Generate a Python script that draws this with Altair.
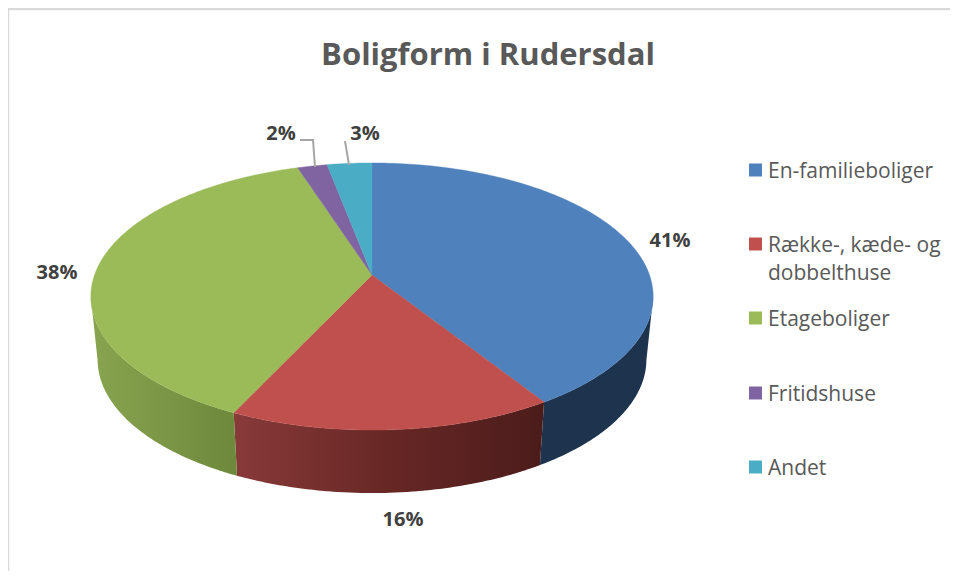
import math
import altair as alt
import pandas as pd

# ---- chart values ----
TITLE = "Boligform i Rudersdal"
CATEGORIES = ["En-familieboliger", "Række-, kæde- og dobbelthuse", "Etageboliger", "Fritidshuse", "Andet"]
SHARES = [41, 16, 38, 2, 3]
COLORS = ["#4F81BD", "#C0504D", "#9BBB59", "#8064A2", "#4BACC6"]
LEGEND_LINES = [["En-familieboliger"], ["Række-, kæde- og", "dobbelthuse"], ["Etageboliger"], ["Fritidshuse"], ["Andet"]]

# ---- layout (in reference pixels) ----
CX, APEX_Y = 372.0, 275.0
RIM_A, RIM_B, RIM_C = 277.5, 85.8, -0.161   # perspective of the tilted disc
DEPTH = 63.0
WALL_SHRINK = 0.976
LABEL_XY = [(670, 241), (403, 520), (57, 273), (281, 134), (365, 134)]
LEGEND_Y = [170, 244, 318, 393, 467]
LEGEND_TEXT_DY = 1.5
LEGEND_SWATCH_X = 755.5
LEGEND_TEXT_X = 768
LINE_GAP = 28
LEADERS = [[(300, 140), (313, 140), (315, 167)], [(345, 141), (349, 165)]]
X_DOM = [8, 950]
Y_DOM = [571, 8]
W, H = 942, 563
FONT = "Open Sans"


def rim(deg, a=RIM_A, dy=0.0):
    t = math.radians(deg)
    u, v = math.sin(t), -math.cos(t)
    d = 1 + RIM_C * v
    return CX + a * u / d, (RIM_B * v + APEX_Y) / d + dy


def to_intervals(poly):
    """Turn an x-monotone outline into x / y / y2 rows for an area mark."""
    rows = []
    xs = sorted({round(p[0], 2) for p in poly})
    n = len(poly)
    for x in xs:
        ys = []
        for i in range(n):
            (x0, y0), (x1, y1) = poly[i], poly[(i + 1) % n]
            lo, hi = min(x0, x1) - 0.006, max(x0, x1) + 0.006
            if lo <= x <= hi:
                if abs(x1 - x0) < 1e-6:
                    ys += [y0, y1]
                else:
                    f = min(1, max(0, (x - x0) / (x1 - x0)))
                    ys.append(y0 + f * (y1 - y0))
        if ys:
            rows.append({"x": x, "y": min(ys), "y2": max(ys)})
    return rows


def degs(a, b, step=1.0):
    n = max(2, int(abs(b - a) / step) + 1)
    return [a + (b - a) * i / (n - 1) for i in range(n)]


total = sum(SHARES)
edges = [0.0]
for s in SHARES:
    edges.append(edges[-1] + 360.0 * s / total)

# top faces
top_rows = []
for name, a, b in zip(CATEGORIES, edges[:-1], edges[1:]):
    poly = [(CX, APEX_Y)] + [rim(d) for d in degs(a, b)]
    for r in to_intervals(poly):
        r["slice"] = name
        top_rows.append(r)
top_df = pd.DataFrame(top_rows)

# silhouette tangents of the disc
tan_right = max(degs(0, 180, 0.5), key=lambda d: rim(d)[0])
tan_left = min(degs(180, 360, 0.5), key=lambda d: rim(d)[0])


def wall(a, b):
    top = [rim(d) for d in degs(a, b)]
    bottom = [rim(d, RIM_A * WALL_SHRINK, DEPTH) for d in degs(a, b)]
    return pd.DataFrame(to_intervals(top + bottom[::-1]))


X = alt.X("x:Q", scale=alt.Scale(domain=X_DOM), axis=None)
Y = alt.Y("y:Q", scale=alt.Scale(domain=Y_DOM), axis=None)
Y2 = alt.Y2("y2:Q")


def grad(*stops):
    return alt.Gradient(
        gradient="linear", x1=0, x2=1, y1=0, y2=0,
        stops=[alt.GradientStop(color=c, offset=o) for o, c in stops],
    )


walls = [
    alt.Chart(wall(tan_right, edges[1])).mark_area(orient="vertical", color="#1E344E")
    .encode(x=X, y=Y, y2=Y2),
    alt.Chart(wall(edges[1], edges[2])).mark_area(
        orient="vertical", color=grad((0, "#883A39"), (0.5, "#672725"), (1, "#4B1C1B")))
    .encode(x=X, y=Y, y2=Y2),
    alt.Chart(wall(edges[2], tan_left)).mark_area(
        orient="vertical", color=grad((0, "#88A44F"), (1, "#6E883C")))
    .encode(x=X, y=Y, y2=Y2),
]

color_scale = alt.Scale(domain=CATEGORIES, range=COLORS)
tops = alt.Chart(top_df).mark_area(orient="vertical", strokeWidth=0.4).encode(
    x=X, y=Y, y2=Y2,
    color=alt.Color("slice:N", scale=color_scale, legend=None),
    stroke=alt.Color("slice:N", scale=color_scale, legend=None),
)

# leader lines
lead_df = pd.DataFrame(
    [{"id": i, "k": k, "x": p[0], "y": p[1]} for i, l in enumerate(LEADERS) for k, p in enumerate(l)]
)
leaders = alt.Chart(lead_df).mark_line(color="#A6A6A6", strokeWidth=2).encode(
    x=X, y=Y, detail="id:N", order="k:Q"
)

# percentage labels
lab_df = pd.DataFrame(
    [{"x": p[0], "y": p[1], "t": f"{s}%"} for p, s in zip(LABEL_XY, SHARES)]
)
labels = alt.Chart(lab_df).mark_text(
    font=FONT, fontWeight="bold", fontSize=20, color="#404040", align="center", baseline="middle"
).encode(x=X, y=Y, text="t:N")

# legend
sw_df = pd.DataFrame({"x": [LEGEND_SWATCH_X] * 5, "y": LEGEND_Y, "slice": CATEGORIES})
swatches = alt.Chart(sw_df).mark_square(size=169, opacity=1).encode(
    x=X, y=Y, color=alt.Color("slice:N", scale=color_scale, legend=None)
)
lg_rows = []
for lines, y in zip(LEGEND_LINES, LEGEND_Y):
    for i, t in enumerate(lines):
        lg_rows.append({"x": LEGEND_TEXT_X, "y": y + LEGEND_TEXT_DY + i * LINE_GAP, "t": t})
legend_text = alt.Chart(pd.DataFrame(lg_rows)).mark_text(
    font=FONT, fontSize=21, color="#595959", align="left", baseline="middle"
).encode(x=X, y=Y, text="t:N")

title = alt.Chart(pd.DataFrame({"x": [488], "y": [56], "t": [TITLE]})).mark_text(
    font=FONT, fontWeight="bold", fontSize=31, color="#595959", align="center", baseline="middle"
).encode(x=X, y=Y, text="t:N")

# outer frame of the original picture
frame_df = pd.DataFrame({"x": [X_DOM[0], X_DOM[0], X_DOM[1]], "y": [Y_DOM[0], 9, 9], "k": [0, 1, 2]})
frame = alt.Chart(frame_df).mark_line(color="#D9D9D9", strokeWidth=2.5).encode(x=X, y=Y, order="k:Q")

chart = alt.layer(frame, *walls, tops, leaders, labels, swatches, legend_text, title).properties(
    width=W, height=H, padding=0,
    autosize=alt.AutoSizeParams(type="none"),
).configure_view(stroke=None).resolve_scale(color="shared")

chart.save("out.html", embed_options={"renderer": "svg", "actions": False})
